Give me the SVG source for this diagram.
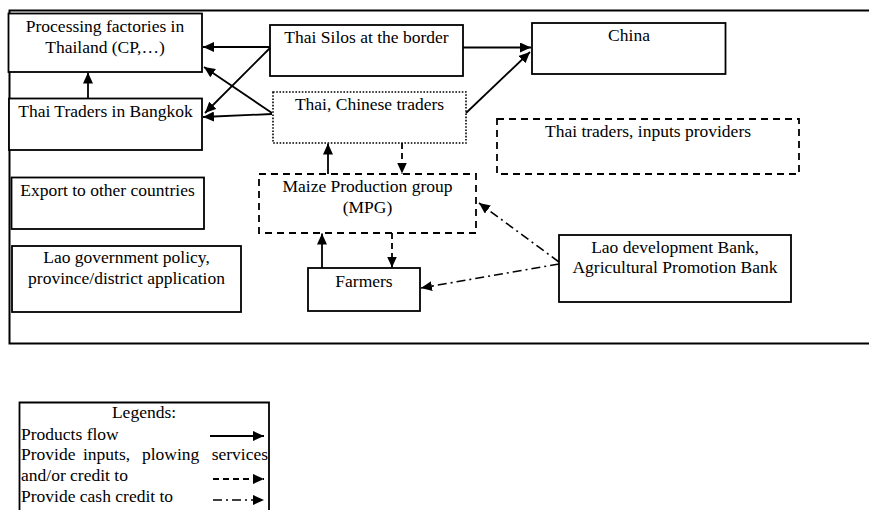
<svg xmlns="http://www.w3.org/2000/svg" width="869" height="510" viewBox="0 0 869 510">
  <style>
    text { font-family: "Liberation Serif", "Times New Roman", serif; font-size: 17.5px; fill: #000; }
    .c { text-anchor: middle; }
    .box { fill: #fff; stroke: #000; stroke-width: 1.8; }
    .dash { fill: #fff; stroke: #000; stroke-width: 1.8; stroke-dasharray: 7 5; }
    .dot { fill: #fff; stroke: #000; stroke-width: 1.6; stroke-dasharray: 1.6 1.6; }
    .frame { fill: none; stroke: #000; stroke-width: 2; }
    .flow { fill: none; stroke: #000; stroke-width: 1.8; marker-end: url(#ah); }
    .input { fill: none; stroke: #000; stroke-width: 1.8; stroke-dasharray: 6 4; marker-end: url(#ah); }
    .cash { fill: none; stroke: #000; stroke-width: 1.6; stroke-dasharray: 9 4 2 4; marker-end: url(#ah); }
  </style>
  <defs>
    <marker id="ah" markerUnits="userSpaceOnUse" markerWidth="11" markerHeight="10" refX="11" refY="5" orient="auto">
      <path d="M0,0 L11,5 L0,10 z" fill="#000"/>
    </marker>
  </defs>

  <rect width="869" height="510" fill="#fff"/>

  <!-- outer frame (open on the right) -->
  <path class="frame" d="M869,10.5 H9.5 V343.5 H869"/>

  <g id="processing-factories">
    <rect class="box" x="8.5" y="13.5" width="193.5" height="58.5"/>
    <text class="c" x="105" y="32">Processing factories in</text>
    <text class="c" x="105" y="53">Thailand (CP,…)</text>
  </g>

  <g id="thai-traders-bangkok">
    <rect class="box" x="9" y="98.5" width="193" height="51.5"/>
    <text class="c" x="105.5" y="117">Thai Traders in Bangkok</text>
  </g>

  <g id="thai-silos">
    <rect class="box" x="270" y="25" width="193" height="51"/>
    <text class="c" x="366.5" y="43">Thai Silos at the border</text>
  </g>

  <g id="china">
    <rect class="box" x="532" y="23" width="193.5" height="51"/>
    <text class="c" x="629" y="41">China</text>
  </g>

  <g id="thai-chinese-traders">
    <rect class="dot" x="273" y="92" width="193" height="51"/>
    <text class="c" x="369.5" y="110">Thai, Chinese traders</text>
  </g>

  <g id="thai-inputs-providers">
    <rect class="dash" x="497" y="119" width="302" height="55"/>
    <text class="c" x="648" y="137">Thai traders, inputs providers</text>
  </g>

  <g id="export">
    <rect class="box" x="11.5" y="177.5" width="192.5" height="51.5"/>
    <text class="c" x="107.5" y="196">Export to other countries</text>
  </g>

  <g id="lao-government">
    <rect class="box" x="12" y="246" width="229" height="66"/>
    <text class="c" x="126.5" y="263">Lao government policy,</text>
    <text class="c" x="126.5" y="284">province/district application</text>
  </g>

  <g id="mpg">
    <rect class="dash" x="259" y="174" width="217" height="59"/>
    <text class="c" x="367.5" y="192">Maize Production group</text>
    <text class="c" x="367.5" y="213">(MPG)</text>
  </g>

  <g id="farmers">
    <rect class="box" x="308" y="268" width="112" height="43"/>
    <text class="c" x="364" y="287">Farmers</text>
  </g>

  <g id="lao-banks">
    <rect class="box" x="559" y="235" width="232" height="67"/>
    <text class="c" x="675" y="253">Lao development Bank,</text>
    <text class="c" x="675" y="273">Agricultural Promotion Bank</text>
  </g>

  <g id="connectors">
    <line class="flow" x1="270" y1="47" x2="203" y2="47"/>
    <line class="flow" x1="270" y1="48" x2="205" y2="113"/>
    <line class="flow" x1="272" y1="113" x2="204" y2="67"/>
    <line class="flow" x1="272" y1="114" x2="203" y2="117"/>
    <line class="flow" x1="88" y1="98" x2="88" y2="72.5"/>
    <line class="flow" x1="463" y1="47.5" x2="531" y2="47.5"/>
    <line class="flow" x1="466" y1="113" x2="530" y2="52"/>
    <line class="flow" x1="328" y1="174" x2="328" y2="143.5"/>
    <line class="input" x1="402" y1="143" x2="402" y2="173.5"/>
    <line class="flow" x1="322" y1="268" x2="322" y2="233.5"/>
    <line class="input" x1="392" y1="233" x2="392" y2="267.5"/>
    <line class="cash" x1="559" y1="262" x2="479" y2="203"/>
    <line class="cash" x1="559" y1="264" x2="421" y2="288"/>
  </g>

  <g id="legend">
    <path class="box" d="M19.5,512 V402.5 H269 V512"/>
    <text class="c" x="144" y="418">Legends:</text>
    <text x="21" y="440">Products flow</text>
    <!-- justified line: words placed individually -->
    <text y="460"><tspan x="21">Provide</tspan><tspan x="83">inputs,</tspan><tspan x="142">plowing</tspan><tspan x="268" text-anchor="end">services</tspan></text>
    <text x="21" y="481">and/or credit to</text>
    <text x="21" y="502">Provide cash credit to</text>
    <line class="flow" x1="210" y1="436" x2="264" y2="436"/>
    <line class="input" x1="213" y1="479" x2="264" y2="479" stroke-dasharray="6 5"/>
    <line class="cash" x1="213" y1="500" x2="264" y2="500" stroke-dasharray="7 5 2 5"/>
  </g>
</svg>
